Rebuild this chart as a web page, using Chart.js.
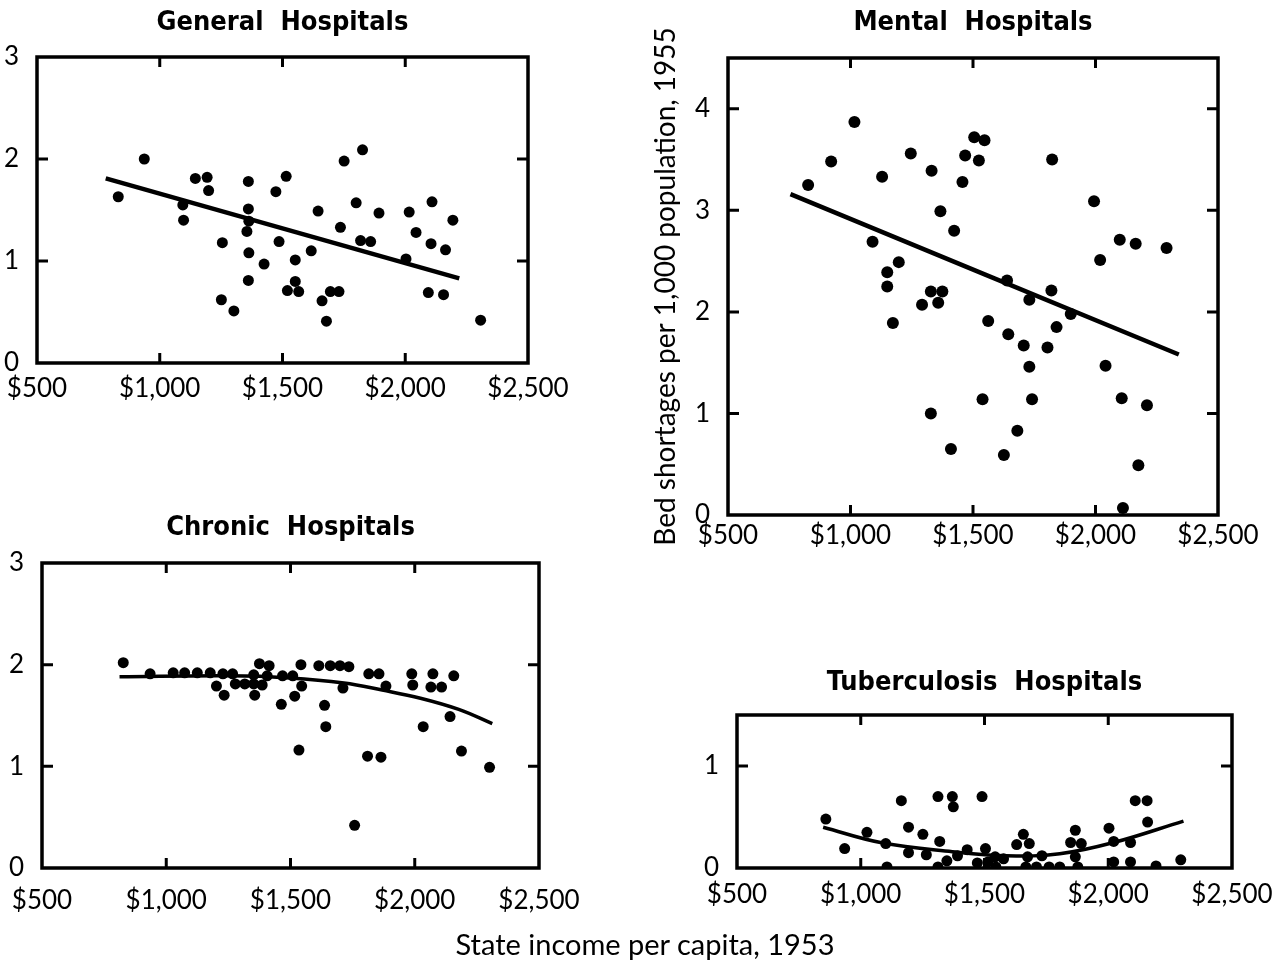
<!DOCTYPE html>
<html>
<head>
<meta charset="utf-8">
<script src="https://cdn.jsdelivr.net/npm/chart.js@4.4.0/dist/chart.umd.min.js"></script>
<style>
  body { margin: 0; background: #fff; width: 1281px; height: 965px; position: relative; overflow: hidden; }
  canvas { position: absolute; }
  #caption { position: absolute; left: 0; width: 1290px; top: 926px; text-align: center; font: 29px Lato, sans-serif; color: #000; }
</style>
</head>
<body>
<canvas id="general" width="640" height="430" style="left:0;top:0"></canvas>
<canvas id="mental" width="641" height="580" style="left:640px;top:0"></canvas>
<canvas id="chronic" width="640" height="450" style="left:0;top:480px"></canvas>
<canvas id="tb" width="641" height="330" style="left:640px;top:600px"></canvas>
<div id="caption">State income per capita, 1953</div>
<script>
// x axis: state income per capita, 1953
const xTicks = [500, 1000, 1500, 2000, 2500];
const xTickLabels = ['$500', '$1,000', '$1,500', '$2,000', '$2,500'];

// General hospitals
const genIncome = [831, 937, 1094, 1097, 1145, 1193, 1199, 1255, 1251, 1302, 1361, 1361, 1363, 1355, 1363, 1361, 1425, 1473, 1515, 1486, 1552, 1552, 1520, 1566, 1617, 1645, 1661, 1679, 1695, 1730, 1736, 1751, 1826, 1800, 1818, 1859, 1893, 2003, 2016, 2044, 2109, 2105, 2094, 2156, 2164, 2194, 2307];
const genShortage = [1.63, 2.0, 1.55, 1.40, 1.81, 1.82, 1.69, 1.18, 0.62, 0.51, 1.78, 1.51, 1.39, 1.29, 1.08, 0.81, 0.97, 1.68, 1.83, 1.19, 1.01, 0.80, 0.71, 0.70, 1.10, 1.49, 0.61, 0.41, 0.70, 0.70, 1.33, 1.98, 2.09, 1.57, 1.20, 1.19, 1.47, 1.02, 1.48, 1.28, 1.58, 1.17, 0.69, 0.67, 1.11, 1.40, 0.42];
const genTrendIncome = [780, 2220];
const genTrendValue = [1.81, 0.83];
const genYTicks = [0, 1, 2, 3];

// Mental hospitals
const mentIncome = [827, 921, 1016, 1090, 1129, 1150, 1150, 1197, 1173, 1246, 1292, 1331, 1328, 1358, 1375, 1367, 1328, 1423, 1410, 1457, 1468, 1505, 1547, 1524, 1539, 1562, 1639, 1644, 1626, 1681, 1707, 1730, 1730, 1741, 1804, 1820, 1823, 1841, 1899, 1994, 2019, 2041, 2099, 2107, 2164, 2112, 2175, 2210, 2290];
const mentShortage = [3.25, 3.48, 3.87, 2.69, 3.33, 2.39, 2.25, 2.49, 1.89, 3.56, 2.07, 3.39, 2.20, 2.09, 2.20, 2.99, 1.00, 2.80, 0.65, 3.28, 3.54, 3.72, 3.69, 3.49, 1.14, 1.91, 2.31, 1.78, 0.59, 0.83, 1.67, 2.12, 1.46, 1.14, 1.65, 2.21, 3.50, 1.85, 1.98, 3.09, 2.51, 1.47, 2.71, 1.15, 2.67, 0.07, 0.49, 1.08, 2.63];
const mentTrendIncome = [755, 2340];
const mentTrendValue = [3.16, 1.58];
const mentYTicks = [0, 1, 2, 3, 4];

// Chronic hospitals
const chronIncome = [827, 935, 1028, 1074, 1125, 1177, 1228, 1267, 1202, 1233, 1278, 1316, 1352, 1356, 1352, 1375, 1414, 1386, 1406, 1463, 1468, 1509, 1517, 1542, 1545, 1534, 1614, 1660, 1699, 1735, 1637, 1642, 1711, 1758, 1815, 1856, 1884, 1810, 1864, 1988, 1992, 2034, 2073, 2065, 2108, 2157, 2142, 2188, 2301];
const chronShortage = [2.02, 1.91, 1.92, 1.92, 1.92, 1.92, 1.91, 1.91, 1.79, 1.70, 1.81, 1.81, 1.90, 1.70, 1.81, 2.01, 1.99, 1.80, 1.89, 1.61, 1.89, 1.89, 1.69, 2.00, 1.79, 1.16, 1.99, 1.99, 1.99, 1.98, 1.60, 1.39, 1.77, 0.42, 1.91, 1.91, 1.79, 1.10, 1.09, 1.91, 1.80, 1.39, 1.91, 1.78, 1.78, 1.89, 1.49, 1.15, 0.99];
const chronTrendIncome = [812, 1252, 1498, 1715, 1869, 2023, 2177, 2312];
const chronTrendValue = [1.88, 1.89, 1.87, 1.82, 1.75, 1.67, 1.56, 1.42];
const chronYTicks = [0, 1, 2, 3];

// Tuberculosis hospitals
const tbIncome = [859, 935, 1025, 1101, 1106, 1164, 1193, 1193, 1251, 1265, 1312, 1319, 1312, 1370, 1374, 1348, 1391, 1430, 1471, 1490, 1504, 1514, 1543, 1546, 1577, 1630, 1657, 1681, 1674, 1667, 1710, 1732, 1761, 1804, 1848, 1867, 1867, 1877, 1891, 2003, 2022, 2022, 2090, 2090, 2109, 2157, 2159, 2193, 2293];
const tbShortage = [0.48, 0.19, 0.35, 0.24, 0.01, 0.66, 0.40, 0.15, 0.33, 0.13, 0.70, 0.26, 0.01, 0.70, 0.60, 0.07, 0.12, 0.18, 0.05, 0.70, 0.19, 0.06, 0.11, 0.01, 0.09, 0.23, 0.33, 0.24, 0.11, 0.01, 0.01, 0.12, 0.01, 0.01, 0.25, 0.37, 0.11, 0.01, 0.24, 0.39, 0.26, 0.06, 0.25, 0.06, 0.66, 0.66, 0.45, 0.02, 0.08];
const tbTrendIncome = [848, 1080, 1370, 1587, 1804, 2022, 2304];
const tbTrendValue = [0.40, 0.25, 0.16, 0.12, 0.14, 0.25, 0.46];
const tbYTicks = [0, 1];

const ink = '#000';
const tickFont = { family: 'Lato, sans-serif', size: 26 };
const titleFont = { family: "'Liberation Sans Narrow', 'DejaVu Sans Condensed', sans-serif", size: 27, weight: 'bold', lineHeight: 1 };

function pairs(xs, ys) {
    return xs.map((x, i) => ({ x: x, y: ys[i] }));
}

// thick box round the plot area, short tick marks pointing inward
const frame = {
    id: 'frame',
    afterDraw(chart) {
        const ctx = chart.ctx, a = chart.chartArea;
        const xs = chart.scales.x, ys = chart.scales.y;
        ctx.save();
        ctx.strokeStyle = ink;
        ctx.lineWidth = 3.5;
        ctx.strokeRect(a.left, a.top, a.right - a.left, a.bottom - a.top);
        ctx.lineWidth = 3;
        ctx.beginPath();
        xs.ticks.forEach(t => {
            const p = xs.getPixelForValue(t.value);
            if (p <= a.left + 2 || p >= a.right - 2) return;
            ctx.moveTo(p, a.bottom); ctx.lineTo(p, a.bottom - 10);
            ctx.moveTo(p, a.top); ctx.lineTo(p, a.top + 10);
        });
        ys.ticks.forEach(t => {
            const p = ys.getPixelForValue(t.value);
            if (p <= a.top + 2 || p >= a.bottom - 2) return;
            ctx.moveTo(a.left, p); ctx.lineTo(a.left + 11, p);
            ctx.moveTo(a.right, p); ctx.lineTo(a.right - 11, p);
        });
        ctx.stroke();
        ctx.restore();
    }
};

function panel(id, o) {
    return new Chart(document.getElementById(id), {
        type: 'scatter',
        data: {
            datasets: [{
                data: pairs(o.px, o.py),
                pointRadius: o.dot,
                pointBackgroundColor: ink,
                pointBorderWidth: 0,
            }, {
                type: 'line',
                data: pairs(o.tx, o.ty),
                borderColor: ink,
                borderWidth: o.lineWidth,
                pointRadius: 0,
                tension: 0.4,
                fill: false,
            }]
        },
        options: {
            responsive: false,
            animation: false,
            events: [],
            layout: { padding: o.pad },
            plugins: {
                legend: { display: false },
                tooltip: { enabled: false },
                title: {
                    display: true,
                    text: o.title,
                    fullSize: false,
                    color: ink,
                    font: titleFont,
                    padding: o.titlePad,
                }
            },
            scales: {
                x: {
                    type: 'linear',
                    min: 500,
                    max: 2500,
                    grid: { display: false, drawTicks: false },
                    border: { display: false },
                    afterBuildTicks: s => { s.ticks = xTicks.map(v => ({ value: v })); },
                    afterFit: s => { s.height = 50; },
                    ticks: {
                        color: ink,
                        // tall line box pushes the labels down without widening the side padding
                        font: { family: tickFont.family, size: tickFont.size, lineHeight: o.xLine },
                        padding: 0,
                        maxRotation: 0,
                        autoSkip: false,
                        callback: (v, i) => xTickLabels[i],
                    }
                },
                y: {
                    min: 0,
                    max: o.yMax,
                    grid: { display: false, drawTicks: false },
                    border: { display: false },
                    afterBuildTicks: s => { s.ticks = o.yTicks.map(v => ({ value: v })); },
                    afterFit: s => { s.width = o.yWidth; },
                    ticks: { color: ink, font: tickFont, padding: 18 },
                    title: o.yTitle || { display: false },
                }
            }
        },
        plugins: [frame]
    });
}

panel('general', {
    title: 'General  Hospitals',
    px: genIncome, py: genShortage, tx: genTrendIncome, ty: genTrendValue,
    yMax: 3, yTicks: genYTicks, lineWidth: 4.5, dot: 5.5,
    pad: { left: 0, top: 0, right: 112, bottom: 17 },
    titlePad: { top: 9, bottom: 21 }, yWidth: 37, xLine: 2.0,
});

panel('mental', {
    title: 'Mental  Hospitals',
    px: mentIncome, py: mentShortage, tx: mentTrendIncome, ty: mentTrendValue,
    yMax: 4.5, yTicks: mentYTicks, lineWidth: 4.5, dot: 6,
    pad: { left: 0, top: 0, right: 63, bottom: 15 },
    titlePad: { top: 9, bottom: 22 }, yWidth: 88, xLine: 1.62,
    yTitle: {
        display: true,
        text: 'Bed shortages per 1,000 population, 1955',
        color: ink,
        font: { family: 'Lato, sans-serif', size: 28, lineHeight: 1.2 },
        padding: { top: 9, bottom: 0 },
    },
});

panel('chronic', {
    title: 'Chronic  Hospitals',
    px: chronIncome, py: chronShortage, tx: chronTrendIncome, ty: chronTrendValue,
    yMax: 3, yTicks: chronYTicks, lineWidth: 3.5, dot: 5.5,
    pad: { left: 0, top: 0, right: 101, bottom: 12 },
    titlePad: { top: 34, bottom: 22 }, yWidth: 42, xLine: 2.54,
});

panel('tb', {
    title: 'Tuberculosis  Hospitals',
    px: tbIncome, py: tbShortage, tx: tbTrendIncome, ty: tbTrendValue,
    yMax: 1.5, yTicks: tbYTicks, lineWidth: 3.5, dot: 5.5,
    pad: { left: 0, top: 0, right: 49, bottom: 12 },
    titlePad: { top: 69, bottom: 19 }, yWidth: 97, xLine: 2.08,
});
</script>
</body>
</html>
